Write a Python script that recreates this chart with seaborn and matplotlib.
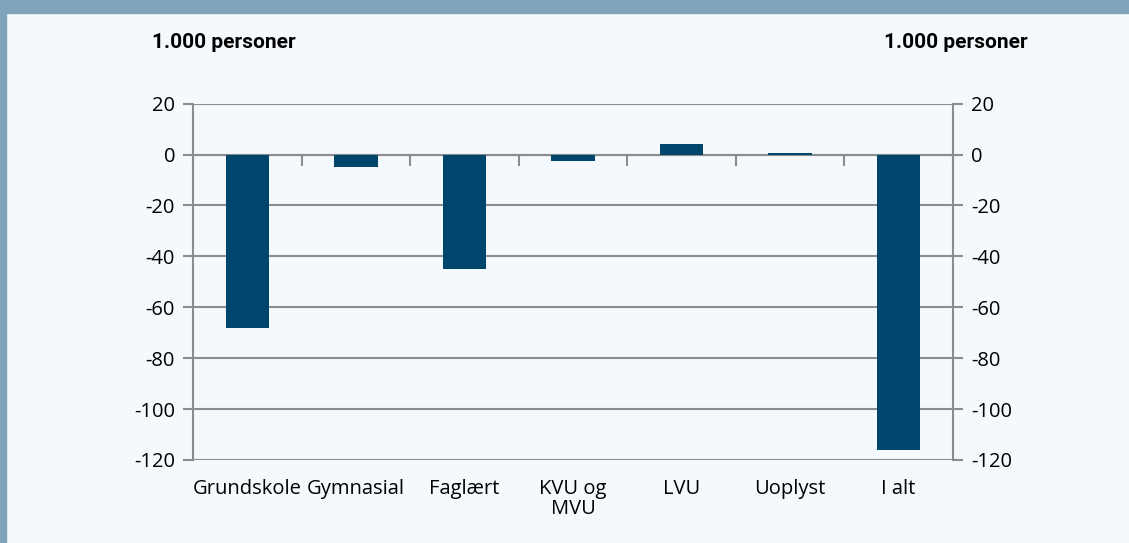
import numpy as np
import pandas as pd
import matplotlib
matplotlib.use("Agg")
import matplotlib.pyplot as plt
import seaborn as sns
from matplotlib.patches import Rectangle

# data (1.000 personer)
categories = ["Grundskole", "Gymnasial", "Faglært", "KVU og\nMVU", "LVU", "Uoplyst", "I alt"]
values = [-68, -5, -45, -2.7, 4, 0.8, -116]
yticks = [20, 0, -20, -40, -60, -80, -100, -120]

BG = "#f4f9fd"
BAR = "#00456b"
GRID = "#8c8c8c"
BANNER = "#7fa3ba"

sns.set_theme(style="white")
plt.rcParams["font.family"] = ["Open Sans", "DejaVu Sans"]

df = pd.DataFrame({"kategori": categories, "vaerdi": values})

fig = plt.figure(figsize=(11.29, 5.43), dpi=100, facecolor=BG)
ax = fig.add_axes([0.171, 0.153, 0.673, 0.656])
ax.set_facecolor(BG)

# frame decorations
fig.patches.append(Rectangle((0, 1 - 13 / 543), 1, 13 / 543, transform=fig.transFigure,
                             color=BANNER, zorder=0))
fig.patches.append(Rectangle((0, 0), 6 / 1129, 1, transform=fig.transFigure,
                             color=BANNER, zorder=0))

sns.barplot(data=df, x="kategori", y="vaerdi", color=BAR, width=0.4,
            saturation=1, linewidth=0, ax=ax, zorder=3)

ax.set_ylim(-120, 20)
ax.set_xlim(-0.5, len(categories) - 0.5)
ax.set_yticks(yticks)
ax.set_yticklabels([str(t) for t in yticks])
ax.yaxis.grid(True, color=GRID, linewidth=1.5, zorder=1)
ax.set_axisbelow(True)

ax.spines["top"].set_visible(False)
for s in ["left", "right", "bottom"]:
    ax.spines[s].set_color(GRID)
    ax.spines[s].set_linewidth(1.5)
ax.spines["bottom"].set_position(("data", 0))
ax.spines["bottom"].set_zorder(2.5)

ax.tick_params(axis="y", left=True, right=True, labelleft=True, labelright=True,
               length=7, width=1.5, color=GRID, labelsize=14.5, labelcolor="black", pad=6)

# category boundary ticks on the zero line
ax.set_xticks(np.arange(-0.5, len(categories)), minor=True)
ax.tick_params(axis="x", which="minor", bottom=True, length=8, width=1.5, color=GRID,
               direction="out")
ax.tick_params(axis="x", which="major", bottom=False, labelbottom=False)
ax.set_xlabel("")
ax.set_ylabel("")

# category labels at bottom of plot area
sec = ax.secondary_xaxis("bottom")
sec.set_xticks(range(len(categories)))
sec.set_xticklabels(categories, linespacing=1.0)
sec.tick_params(length=0, labelsize=14.5, labelcolor="black", pad=14)
sec.spines["bottom"].set_visible(False)

title_font = ["Roboto", "DejaVu Sans"]
fig.text(152 / 1129, 1 - 42 / 543, "1.000 personer", fontsize=15, fontweight="bold",
         va="center", ha="left", color="black", family=title_font)
fig.text(1028 / 1129, 1 - 42 / 543, "1.000 personer", fontsize=15, fontweight="bold",
         va="center", ha="right", color="black", family=title_font)

fig.savefig("out.png", dpi=100, facecolor=BG)
